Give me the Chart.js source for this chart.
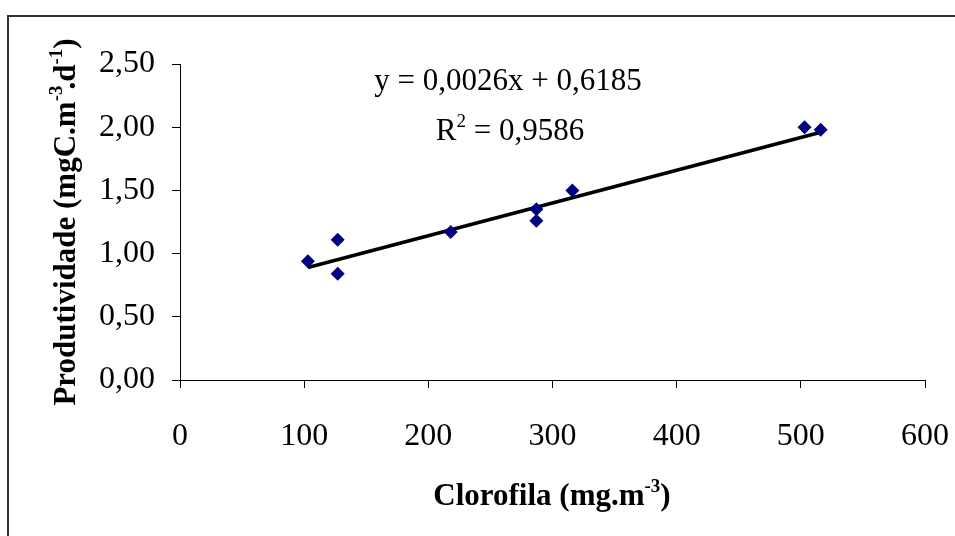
<!DOCTYPE html>
<html>
<head>
<meta charset="utf-8">
<script src="https://cdn.jsdelivr.net/npm/chart.js@4"></script>
<style>
  html, body { margin: 0; padding: 0; background: #fff; }
  #wrap { width: 955px; height: 536px; }
</style>
</head>
<body>
<div id="wrap"><canvas id="chart" width="955" height="536"></canvas></div>
<script>
// values
const chlorophyll = [103, 127, 127, 218, 287, 287, 316, 503, 516];
const productivity = [0.94, 1.11, 0.84, 1.17, 1.35, 1.26, 1.50, 2.00, 1.98];
const trendX = [103, 516];
const trendY = [0.89, 1.96];
const xTicks = [0, 100, 200, 300, 400, 500, 600];
const yTicks = [0, 0.5, 1, 1.5, 2, 2.5];
const equationText = 'y = 0,0026x + 0,6185';
const r2Text = '0,9586';

const serif = '"Liberation Serif", "Times New Roman", serif';

// draws text pieces, some of them superscript, centred on (x, y) baseline
function drawRich(ctx, parts, x, y, size, bold, rotate) {
    const weight = bold ? 'bold ' : '';
    const supSize = Math.round(size * 0.62);
    let total = 0;
    parts.forEach(p => {
        ctx.font = weight + (p.sup ? supSize : size) + 'px ' + serif;
        p.w = ctx.measureText(p.t).width + (p.kern || 0);
        total += p.w;
    });
    ctx.save();
    ctx.translate(x, y);
    if (rotate) ctx.rotate(-Math.PI / 2);
    ctx.fillStyle = '#000';
    ctx.textBaseline = 'alphabetic';
    ctx.textAlign = 'left';
    let cx = -total / 2;
    parts.forEach(p => {
        ctx.font = weight + (p.sup ? supSize : size) + 'px ' + serif;
        ctx.fillText(p.t, cx, p.sup ? -size * 0.42 : 0);
        cx += p.w;
    });
    ctx.restore();
}

const extras = {
    id: 'extras',
    afterDraw(chart) {
        const ctx = chart.ctx;
        // frame (top and left edges only visible)
        ctx.save();
        ctx.strokeStyle = '#333';
        ctx.lineWidth = 2;
        ctx.beginPath();
        ctx.moveTo(8, 536);
        ctx.lineTo(8, 16);
        ctx.lineTo(955, 16);
        ctx.stroke();
        ctx.restore();

        drawRich(ctx, [{t: equationText}], 508, 90, 31, false, false);
        drawRich(ctx, [{t: 'R'}, {t: '2', sup: true}, {t: ' = ' + r2Text}], 510, 140, 31, false, false);

        drawRich(ctx, [{t: 'Clorofila (mg.m'}, {t: '-3', sup: true}, {t: ')'}], 552, 505, 31, true, false);
        drawRich(ctx, [{t: 'Produtividade (mgC.m'}, {t: '-3', sup: true, kern: -4}, {t: '.d'}, {t: '-1', sup: true}, {t: ')'}],
            75, 222, 31, true, true);
    }
};

const tickFont = { family: serif, size: 32 };

new Chart(document.getElementById('chart'), {
    type: 'scatter',
    data: {
        datasets: [{
            label: 'dados',
            data: chlorophyll.map((x, i) => ({ x: x, y: productivity[i] })),
            pointStyle: 'rectRot',
            pointRadius: 7,
            pointHoverRadius: 7,
            backgroundColor: '#000080',
            borderColor: '#000080',
            borderWidth: 0
        }, {
            label: 'linear',
            type: 'line',
            data: trendX.map((x, i) => ({ x: x, y: trendY[i] })),
            borderColor: '#000',
            borderWidth: 3.5,
            pointRadius: 0,
            fill: false
        }]
    },
    options: {
        responsive: false,
        animation: false,
        events: [],
        layout: { padding: { left: 0, top: 64, right: 30, bottom: 0 } },
        plugins: { legend: { display: false }, tooltip: { enabled: false } },
        scales: {
            x: {
                type: 'linear',
                min: 0, max: 600,
                afterBuildTicks: s => { s.ticks = xTicks.map(v => ({ value: v })); },
                afterFit: s => { s.height = 156; s.paddingLeft = 0; s.paddingRight = 0; },
                grid: { drawOnChartArea: false, tickLength: 8, color: '#000', tickColor: '#000' },
                border: { display: true, color: '#000', width: 1 },
                ticks: { color: '#000', font: tickFont, padding: 29, maxRotation: 0 }
            },
            y: {
                min: 0, max: 2.5,
                afterBuildTicks: s => { s.ticks = yTicks.map(v => ({ value: v })); },
                afterFit: s => { s.width = 180; s.paddingTop = 0; s.paddingBottom = 0; },
                grid: { drawOnChartArea: false, tickLength: 8, color: '#000', tickColor: '#000' },
                border: { display: true, color: '#000', width: 1 },
                ticks: {
                    color: '#000', font: tickFont, padding: 17,
                    callback: v => v.toFixed(2).replace('.', ',')
                }
            }
        }
    },
    plugins: [extras]
});
</script>
</body>
</html>
